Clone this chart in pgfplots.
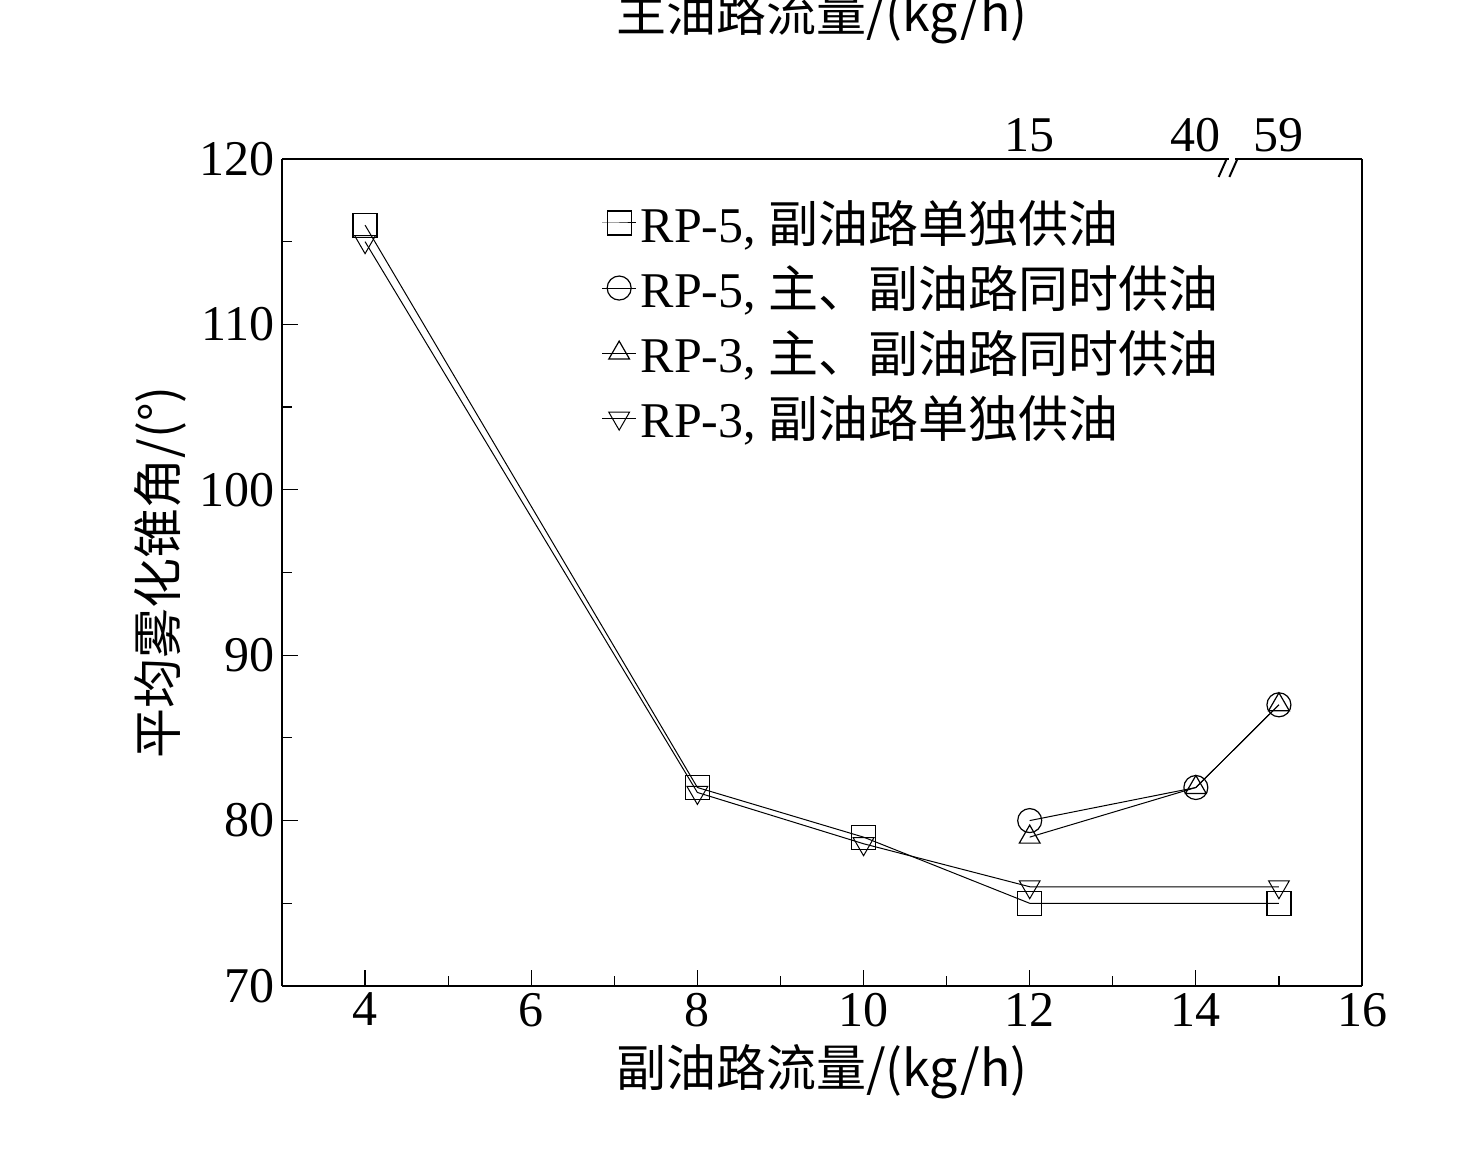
\documentclass[border=0pt]{standalone}
\usepackage{pgfplots}
\pgfplotsset{compat=1.18}
\usepackage{fontspec}
\setmainfont{Liberation Serif}
\newfontfamily\cjk{Noto Sans CJK SC}
\begin{document}
\begin{tikzpicture}
\path[use as bounding box] (0pt,0pt) rectangle (738pt,574.5pt);
\pgfplotsset{every axis/.style={font=\fontsize{25}{30}\selectfont}}
\begin{axis}[at={(141pt,81.5pt)},anchor=south west,scale only axis,
 width=540pt,height=413.5pt,xmin=3,xmax=16,ymin=70,ymax=120,
 xtick={4,6,...,16},ytick={70,80,...,120},minor x tick num=1,minor y tick num=1,
 axis x line*=bottom, axis y line*=left,
 tick align=inside,major tick length=8pt,minor tick length=5pt,
 tick style={black,line width=0.6pt},axis line style={line width=0.8pt},
 /pgf/number format/assume math mode=true,
 xlabel={\cjk 副油路流量/(kg/h)},ylabel={\cjk 平均雾化锥角/(°)},
 xlabel style={yshift=-2pt},
 legend style={draw=none,fill=none,at={(0.29,0.96)},anchor=north west,font=\fontsize{25}{30}\selectfont,row sep=6pt},
 legend cell align=left,
 every axis plot/.append style={black,line width=0.5pt,mark size=6pt,mark options={fill=white,line width=0.6pt}}]
\addplot[mark=square] coordinates {(4,116)(8,82)(10,79)(12,75)(15,75)};
\addlegendentry{RP-5, {\cjk 副油路单独供油}}
\addplot[mark=o] coordinates {(12,80)(14,82)(15,87)};
\addlegendentry{RP-5, {\cjk 主、副油路同时供油}}
\addplot[mark=triangle] coordinates {(12,79)(14,82)(15,87)};
\addlegendentry{RP-3, {\cjk 主、副油路同时供油}}
\addplot[mark=triangle,mark options={rotate=180}] coordinates {(4,115)(8,81.7)(10,78.6)(12,76)(15,76)};
\addlegendentry{RP-3, {\cjk 副油路单独供油}}
\end{axis}
\begin{axis}[at={(141pt,81.5pt)},anchor=south west,scale only axis,
 width=540pt,height=413.5pt,xmin=3,xmax=16,ymin=70,ymax=120,
 axis x line*=top, axis y line*=right, ytick=\empty,
 xtick={12,14,15},xticklabels={15,40,59},major tick length=0pt,
 axis line style={line width=0.8pt},
 /pgf/number format/assume math mode=true,
 xlabel={\cjk 主油路流量/(kg/h)},xlabel style={yshift=30pt}]
\addplot[draw=none] coordinates {(12,100)};
\fill[white] ([yshift=-2pt]axis cs:14.4,120) rectangle ([yshift=2pt]axis cs:14.47,120);
\draw[line width=1pt] (axis cs:14.37,120) ++(-4pt,-9pt) -- ++(8pt,18pt);
\draw[line width=1pt] (axis cs:14.5,120) ++(-4pt,-9pt) -- ++(8pt,18pt);
\end{axis}
\end{tikzpicture}
\end{document}
